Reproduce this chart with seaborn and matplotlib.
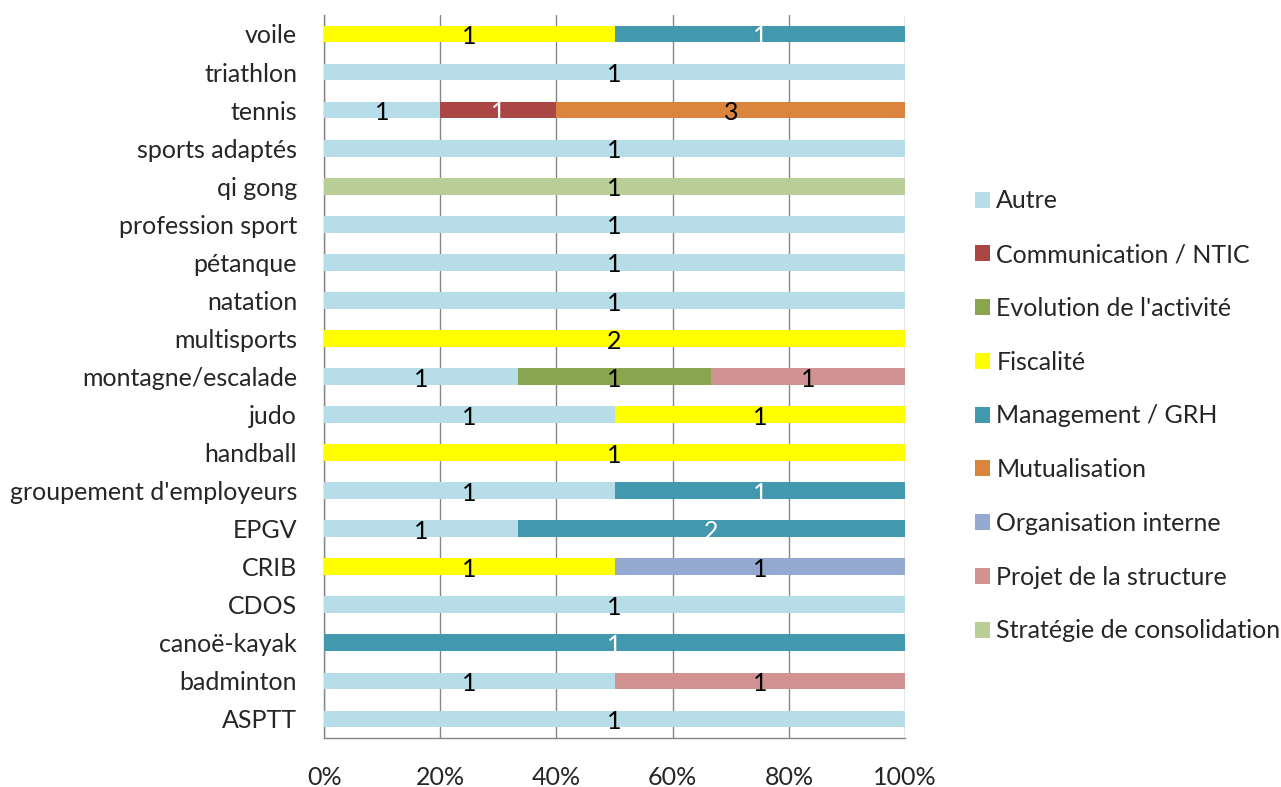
import numpy as np
import pandas as pd
import matplotlib
matplotlib.use("Agg")
import matplotlib.pyplot as plt
from matplotlib.patches import Patch
import seaborn as sns

categories = ["voile", "triathlon", "tennis", "sports adaptés", "qi gong",
              "profession sport", "pétanque", "natation", "multisports",
              "montagne/escalade", "judo", "handball", "groupement d'employeurs",
              "EPGV", "CRIB", "CDOS", "canoë-kayak", "badminton", "ASPTT"]

series = ["Autre", "Communication / NTIC", "Evolution de l'activité", "Fiscalité",
          "Management / GRH", "Mutualisation", "Organisation interne",
          "Projet de la structure", "Stratégie de consolidation"]

autre =        [0, 1, 1, 1, 0, 1, 1, 1, 0, 1, 1, 0, 1, 1, 0, 1, 0, 1, 1]
communication= [0, 0, 1, 0, 0, 0, 0, 0, 0, 0, 0, 0, 0, 0, 0, 0, 0, 0, 0]
evolution =    [0, 0, 0, 0, 0, 0, 0, 0, 0, 1, 0, 0, 0, 0, 0, 0, 0, 0, 0]
fiscalite =    [1, 0, 0, 0, 0, 0, 0, 0, 2, 0, 1, 1, 0, 0, 1, 0, 0, 0, 0]
management =   [1, 0, 0, 0, 0, 0, 0, 0, 0, 0, 0, 0, 1, 2, 0, 0, 1, 0, 0]
mutualisation= [0, 0, 3, 0, 0, 0, 0, 0, 0, 0, 0, 0, 0, 0, 0, 0, 0, 0, 0]
organisation = [0, 0, 0, 0, 0, 0, 0, 0, 0, 0, 0, 0, 0, 0, 1, 0, 0, 0, 0]
projet =       [0, 0, 0, 0, 0, 0, 0, 0, 0, 1, 0, 0, 0, 0, 0, 0, 0, 1, 0]
strategie =    [0, 0, 0, 0, 1, 0, 0, 0, 0, 0, 0, 0, 0, 0, 0, 0, 0, 0, 0]

colors = ["#B7DEE8", "#AA4643", "#89A54E", "#FFFF00", "#4198AF",
          "#DB843D", "#93A9CF", "#D19392", "#B9CD96"]
text_colors = ["black", "white", "black", "black", "white",
               "black", "black", "black", "black"]

values = np.array([autre, communication, evolution, fiscalite, management,
                   mutualisation, organisation, projet, strategie], dtype=float)
totals = values.sum(axis=0)
pct = values / totals * 100
cum = np.cumsum(pct, axis=0)

sns.set_style("white")
plt.rcParams['font.family'] = ['Lato', 'DejaVu Sans']
FS = 18

fig = plt.figure(figsize=(12.81, 7.87), dpi=100)
ax = fig.add_axes([0.253, 0.0623, 0.4535, 0.9187])

# draw cumulative ends from last series to first so earlier overlay later
for i in range(len(series) - 1, -1, -1):
    df = pd.DataFrame({"cat": categories, "end": cum[i]})
    sns.barplot(data=df, x="end", y="cat", order=categories, color=colors[i],
                saturation=1, width=0.44, ax=ax, orient="h", edgecolor="none",
                linewidth=0, zorder=3)

# value labels
for i in range(len(series)):
    for j, cat in enumerate(categories):
        if values[i, j] > 0:
            center = cum[i, j] - pct[i, j] / 2
            ax.text(center, j + 0.07, f"{int(values[i, j])}", ha="center", va="center",
                    fontsize=FS, color=text_colors[i], zorder=5)

ax.set_xlim(0, 100)
ax.set_ylim(len(categories) - 0.5, -0.5)
ax.set_xticks([0, 20, 40, 60, 80, 100])
ax.set_xticklabels(["0%", "20%", "40%", "60%", "80%", "100%"], fontsize=FS)
ax.set_yticks(range(len(categories)))
ax.set_yticklabels(categories, fontsize=FS)
ax.set_yticks(np.arange(-0.5, len(categories), 1), minor=True)
ax.tick_params(axis="y", which="major", length=0, pad=19.4)
ax.tick_params(axis="y", which="minor", length=5, color="#868686", width=1)
ax.tick_params(axis="x", which="major", length=5, color="#868686", width=1, pad=15)
ax.set_xlabel("")
ax.set_ylabel("")
ax.grid(axis="x", color="#868686", linewidth=1, zorder=0)
ax.set_axisbelow(True)
for s in ["top", "right"]:
    ax.spines[s].set_visible(False)
for s in ["left", "bottom"]:
    ax.spines[s].set_color("#868686")
    ax.spines[s].set_linewidth(1)

handles = [Patch(facecolor=c, edgecolor="none") for c in colors]
fig.legend(handles, series, loc="center left", bbox_to_anchor=(0.7436, 0.4715),
           frameon=False, fontsize=FS, labelspacing=1.23, handlelength=0.6,
           handleheight=0.6, handletextpad=0.25)

fig.savefig("out.png", dpi=100)
